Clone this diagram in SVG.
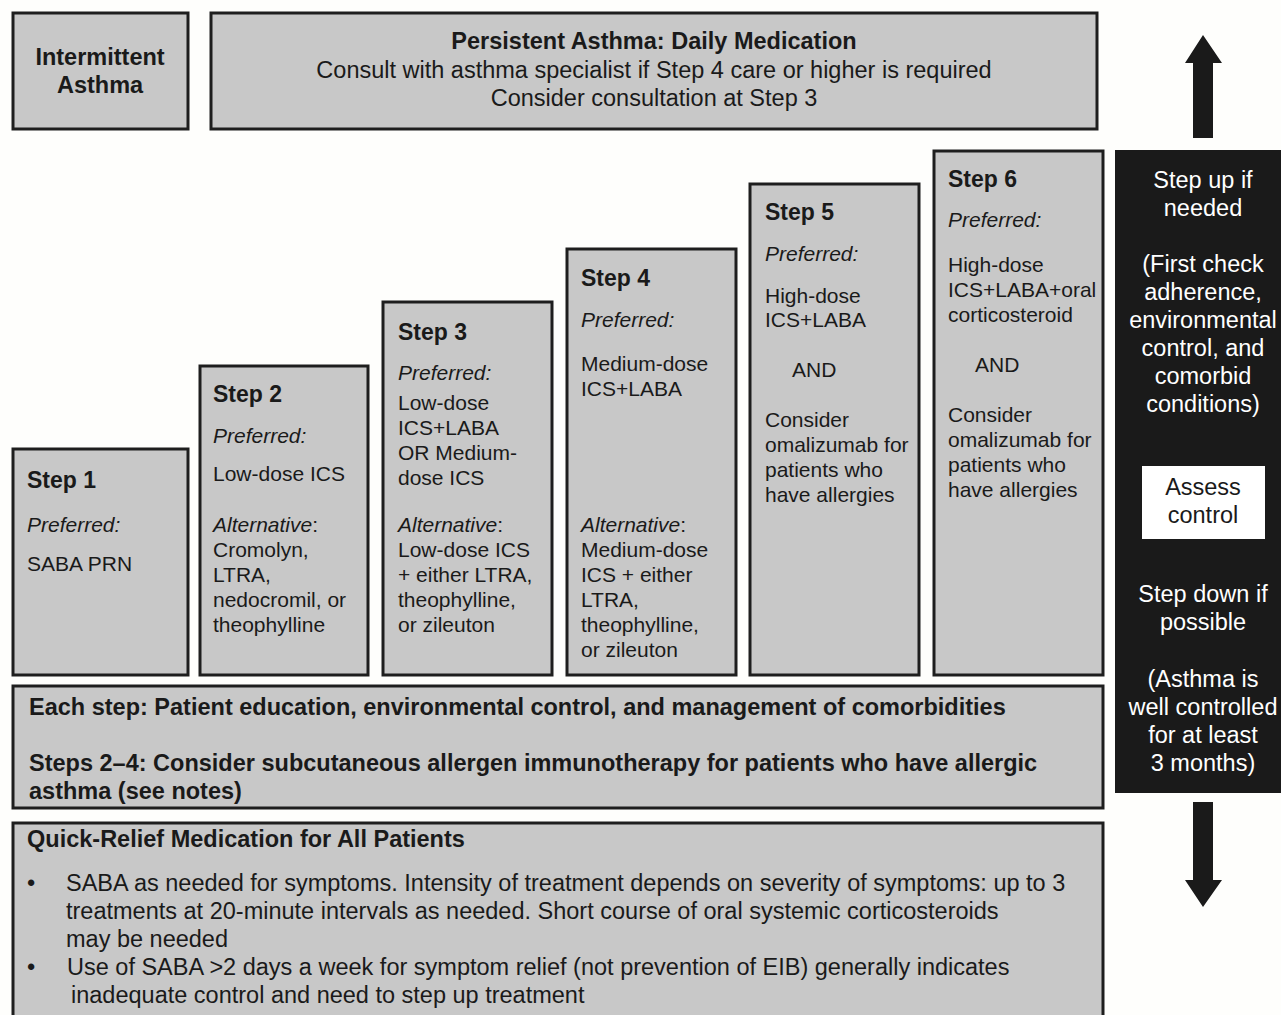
<svg xmlns="http://www.w3.org/2000/svg" width="1281" height="1015" viewBox="0 0 1281 1015">
<style>
.box{fill:#c8c8c8;stroke:#1e1e1e;stroke-width:3}
text{font-family:"Liberation Sans",Arial,sans-serif;font-size:21px;fill:#1a1a1a}
.L{font-size:23.5px}
.b{font-weight:bold}
.h{font-weight:bold;font-size:23px}
.i{font-style:italic}
.c{text-anchor:middle}
.w{fill:#ffffff}
</style>
<rect width="1281" height="1015" fill="#fefefc"/>
<g id="intermittent">
<rect class="box" x="13" y="13" width="175" height="116"/>
<text class="L b c" x="100" y="65">Intermittent</text>
<text class="L b c" x="100" y="93">Asthma</text>
</g>
<g id="persistent">
<rect class="box" x="211" y="13" width="886" height="116"/>
<text class="L b c" x="654" y="49">Persistent Asthma: Daily Medication</text>
<text class="L c" x="654" y="78">Consult with asthma specialist if Step 4 care or higher is required</text>
<text class="L c" x="654" y="106">Consider consultation at Step 3</text>
</g>
<g id="step1">
<rect class="box" x="13" y="449" width="175" height="226"/>
<text class="h" x="27" y="488">Step 1</text>
<text class="i" x="27" y="532">Preferred:</text>
<text x="27" y="571">SABA PRN</text>
</g>
<g id="step2">
<rect class="box" x="200" y="366" width="168" height="309"/>
<text class="h" x="213" y="402">Step 2</text>
<text class="i" x="213" y="443">Preferred:</text>
<text x="213" y="481">Low-dose ICS</text>
<text x="213" y="532"><tspan class="i">Alternative</tspan>:</text>
<text x="213" y="557">Cromolyn,</text>
<text x="213" y="582">LTRA,</text>
<text x="213" y="607">nedocromil, or</text>
<text x="213" y="632">theophylline</text>
</g>
<g id="step3">
<rect class="box" x="383" y="302" width="169" height="373"/>
<text class="h" x="398" y="340">Step 3</text>
<text class="i" x="398" y="380">Preferred:</text>
<text x="398" y="410">Low-dose</text>
<text x="398" y="435">ICS+LABA</text>
<text x="398" y="460">OR Medium-</text>
<text x="398" y="485">dose ICS</text>
<text x="398" y="532"><tspan class="i">Alternative</tspan>:</text>
<text x="398" y="557">Low-dose ICS</text>
<text x="398" y="582">+ either LTRA,</text>
<text x="398" y="607">theophylline,</text>
<text x="398" y="632">or zileuton</text>
</g>
<g id="step4">
<rect class="box" x="567" y="249" width="169" height="426"/>
<text class="h" x="581" y="286">Step 4</text>
<text class="i" x="581" y="327">Preferred:</text>
<text x="581" y="371">Medium-dose</text>
<text x="581" y="396">ICS+LABA</text>
<text x="581" y="532"><tspan class="i">Alternative</tspan>:</text>
<text x="581" y="557">Medium-dose</text>
<text x="581" y="582">ICS + either</text>
<text x="581" y="607">LTRA,</text>
<text x="581" y="632">theophylline,</text>
<text x="581" y="657">or zileuton</text>
</g>
<g id="step5">
<rect class="box" x="750" y="184" width="169" height="491"/>
<text class="h" x="765" y="220">Step 5</text>
<text class="i" x="765" y="261">Preferred:</text>
<text x="765" y="303">High-dose</text>
<text x="765" y="327">ICS+LABA</text>
<text x="792" y="377">AND</text>
<text x="765" y="427">Consider</text>
<text x="765" y="452">omalizumab for</text>
<text x="765" y="477">patients who</text>
<text x="765" y="502">have allergies</text>
</g>
<g id="step6">
<rect class="box" x="934" y="151" width="169" height="524"/>
<text class="h" x="948" y="187">Step 6</text>
<text class="i" x="948" y="227">Preferred:</text>
<text x="948" y="272">High-dose</text>
<text x="948" y="297">ICS+LABA+oral</text>
<text x="948" y="322">corticosteroid</text>
<text x="975" y="372">AND</text>
<text x="948" y="422">Consider</text>
<text x="948" y="447">omalizumab for</text>
<text x="948" y="472">patients who</text>
<text x="948" y="497">have allergies</text>
</g>
<g id="each-step">
<rect class="box" x="13" y="686" width="1090" height="122"/>
<text class="L b" x="29" y="715">Each step: Patient education, environmental control, and management of comorbidities</text>
<text class="L b" x="29" y="771">Steps 2–4: Consider subcutaneous allergen immunotherapy for patients who have allergic</text>
<text class="L b" x="29" y="799">asthma (see notes)</text>
</g>
<g id="quick-relief">
<rect class="box" x="13" y="823" width="1090" height="200"/>
<text class="L b" x="27" y="847">Quick-Relief Medication for All Patients</text>
<text class="L" x="27" y="891">•</text>
<text class="L" x="66" y="891">SABA as needed for symptoms. Intensity of treatment depends on severity of symptoms: up to 3</text>
<text class="L" x="66" y="919">treatments at 20-minute intervals as needed. Short course of oral systemic corticosteroids</text>
<text class="L" x="66" y="947">may be needed</text>
<text class="L" x="27" y="975">•</text>
<text class="L" x="67" y="975">Use of SABA &gt;2 days a week for symptom relief (not prevention of EIB) generally indicates</text>
<text class="L" x="71" y="1003">inadequate control and need to step up treatment</text>
</g>
<g id="assess-panel">
<rect x="1115" y="150" width="166" height="643" fill="#1a1a1a"/>
<text class="L c w" x="1203" y="188">Step up if</text>
<text class="L c w" x="1203" y="216">needed</text>
<text class="L c w" x="1203" y="272">(First check</text>
<text class="L c w" x="1203" y="300">adherence,</text>
<text class="L c w" x="1203" y="328">environmental</text>
<text class="L c w" x="1203" y="356">control, and</text>
<text class="L c w" x="1203" y="384">comorbid</text>
<text class="L c w" x="1203" y="412">conditions)</text>
<text class="L c w" x="1203" y="602">Step down if</text>
<text class="L c w" x="1203" y="630">possible</text>
<text class="L c w" x="1203" y="687">(Asthma is</text>
<text class="L c w" x="1203" y="715">well controlled</text>
<text class="L c w" x="1203" y="743">for at least</text>
<text class="L c w" x="1203" y="771">3 months)</text>
</g>
<g id="assess-control">
<rect x="1142" y="466" width="123" height="73" fill="#ffffff"/>
<text class="L c" x="1203" y="495">Assess</text>
<text class="L c" x="1203" y="523">control</text>
</g>
<g id="connectors">
<polygon points="1193,138 1213,138 1213,63 1222,63 1203,35 1185,63 1193,63" fill="#1a1a1a"/>
<polygon points="1193,802 1213,802 1213,880 1222,880 1203,907 1185,880 1193,880" fill="#1a1a1a"/>
</g>
</svg>
